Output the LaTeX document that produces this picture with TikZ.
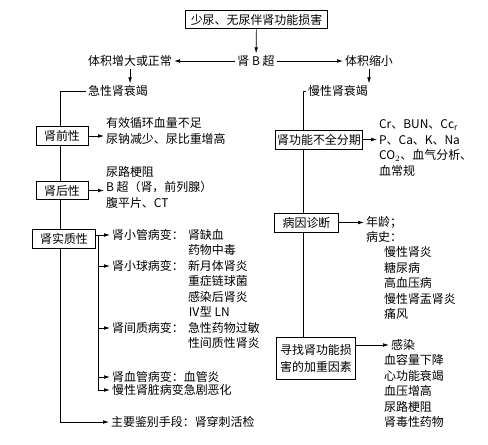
\documentclass[tikz,border=0pt]{standalone}
\usepackage{fontspec}
\setmainfont{Noto Sans CJK SC}
\usetikzlibrary{arrows.meta,positioning,calc}

\newcommand{\zh}{\fontsize{10.2}{13.2}\selectfont}

\begin{document}
\begin{tikzpicture}[x=0.03cm, y=-0.03cm,
  box/.style={draw, line width=0.8pt, font=\zh, inner xsep=0.24cm, minimum height=0.51cm},
  txt/.style={font=\zh, inner sep=1.5pt, align=left},
  arr/.style={-{Latex[length=1.8mm,width=1.1mm]}},
  every path/.style={line width=0.6pt}]
  \useasboundingbox (0,0) rectangle (488,444);
  % top row
  \node[box, inner xsep=0.15cm] (top) at (256.5,19.5) {少尿、无尿伴肾功能损害};
  \node[txt] (bus) at (256,61) {肾 B 超};
  \node[txt, anchor=east] (big) at (174,61) {体积增大或正常};
  \node[txt, anchor=west] (small) at (343,61) {体积缩小};
  \node[txt, anchor=west] (acute) at (86,91) {急性肾衰竭};
  \node[txt, anchor=west] (chronic) at (306,91) {慢性肾衰竭};
  \coordinate (L) at (60,91);
  \coordinate (R) at (303,91);
  % left column
  \node[box, minimum width=1.56cm] (pre) at (62,136) {肾前性};
  \node[txt, anchor=west] (pretext) at (104,131) {有效循环血量不足\\尿钠减少、尿比重增高};
  \node[box, minimum width=1.56cm] (post) at (62,190.5) {肾后性};
  \node[txt, anchor=west] (posttext) at (104,187) {尿路梗阻\\B 超（肾，前列腺）\\腹平片、CT};
  \node[box, minimum width=1.9cm] (par) at (64,239) {肾实质性};
  \coordinate (S) at (98,235);
  \node[txt, anchor=west] (tub) at (110,235) {肾小管病变：};
  \node[txt, anchor=north west] (tubd) at (tub.north east) {肾缺血\\药物中毒};
  \node[txt, anchor=west] (glo) at (110,266) {肾小球病变：};
  \node[txt, anchor=north west] (glod) at (glo.north east) {新月体肾炎\\重症链球菌\\感染后肾炎\\Ⅳ型 LN};
  \node[txt, anchor=west] (int) at (110,328) {肾间质病变：};
  \node[txt, anchor=north west] (intd) at (int.north east) {急性药物过敏\\性间质性肾炎};
  \node[txt, anchor=west] (vas) at (110,377) {肾血管病变：血管炎};
  \node[txt, anchor=west] (ckd) at (110,390) {慢性肾脏病变急剧恶化};
  \node[txt, anchor=west] (diag) at (109,422) {主要鉴别手段：肾穿刺活检};
  \coordinate (L1) at (60,422);
  % right column
  \node[box, inner xsep=0.06cm] (func) at (319,139.5) {肾功能不全分期};
  \node[txt, anchor=west] (functext) at (377,148) {Cr、BUN、Cc$_\mathrm{r}$\\P、Ca、K、Na\\CO$_2$、血气分析、\\血常规};
  \node[box, minimum width=1.77cm, minimum height=0.57cm] (cause) at (306.5,222.5) {病因诊断};
  \node[txt, anchor=west] (age) at (364,229.5) {年龄；\\病史：};
  \node[txt, anchor=west] (hist) at (382,283) {慢性肾炎\\糖尿病\\高血压病\\慢性肾盂肾炎\\痛风};
  \node[box, align=center, inner xsep=0.12cm, minimum height=1.26cm,
    font=\fontsize{10.2}{14.5}\selectfont] (aggr) at (316,358) {寻找肾功能损\\害的加重因素};
  \node[txt, anchor=west] (inf) at (389,345) {感染};
  \node[txt, anchor=west] (aggrtext) at (382,391) {血容量下降\\心功能衰竭\\血压增高\\尿路梗阻\\肾毒性药物};
  % connectors
  \draw[arr] (top) -- (bus);
  \draw[arr] (bus) -- (big);
  \draw[arr] (bus) -- (small);
  \draw[arr] (big.south) -- (big.south |- acute.north);
  \draw[arr] (small.south) -- (small.south |- chronic.north);
  \draw (acute.west) -- (L) -- (L |- pre.north);
  \draw (L |- pre.south) -- (L |- post.north);
  \draw (L |- post.south) -- (L |- par.north);
  \draw[arr] (L |- par.south) -- (L1) -- (diag.west);
  \draw[arr] (pre.east) -- (pre.east -| pretext.west);
  \draw[arr] (post.east) -- (post.east -| posttext.west);
  \draw[arr] (par.east |- tub.west) -- (tub.west);
  \draw (S) -- (S |- ckd.west);
  \foreach \n in {glo,int,vas,ckd}
    {\draw[arr] (S |- \n.west) -- (\n.west);}
  \draw (chronic.west) -- (R) -- (R |- func.north);
  \draw (R |- func.south) -- (R |- cause.north);
  \draw (R |- cause.south) -- (R |- aggr.north);
  \draw[arr] (func.east) -- (func.east -| functext.west);
  \draw[arr] (cause.east) -- (cause.east -| age.west);
  \draw[arr] (aggr.east |- inf.west) -- (inf.west);
\end{tikzpicture}
\end{document}
